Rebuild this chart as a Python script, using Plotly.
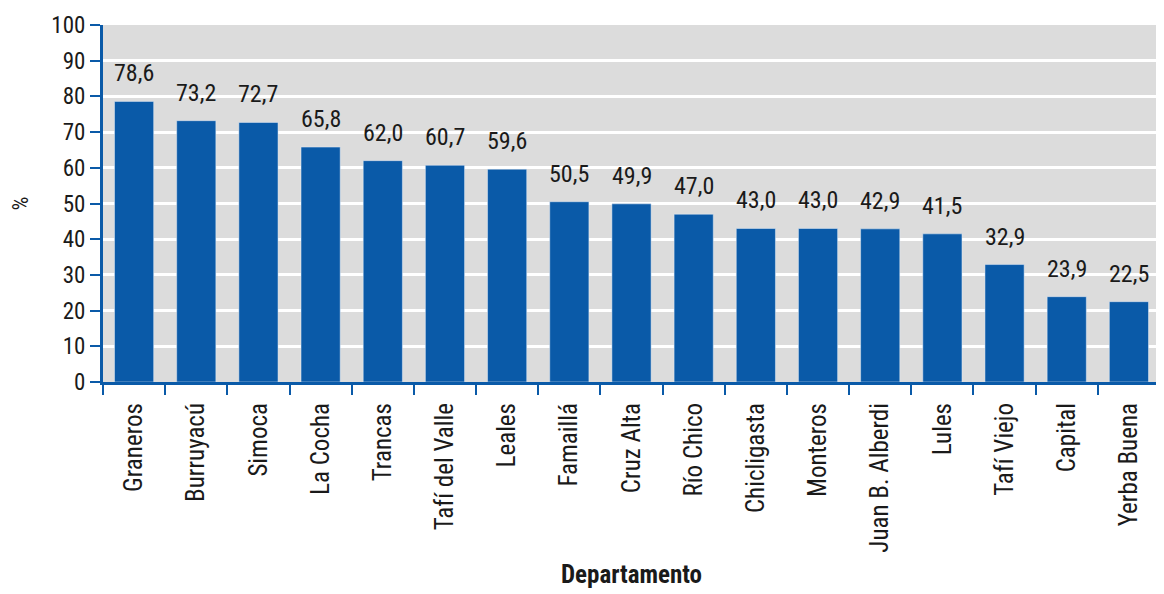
import plotly.graph_objects as go

departamentos = ["Graneros", "Burruyacú", "Simoca", "La Cocha", "Trancas", "Tafí del Valle",
                 "Leales", "Famaillá", "Cruz Alta", "Río Chico", "Chicligasta", "Monteros",
                 "Juan B. Alberdi", "Lules", "Tafí Viejo", "Capital", "Yerba Buena"]
porcentaje = [78.6, 73.2, 72.7, 65.8, 62.0, 60.7, 59.6, 50.5, 49.9, 47.0, 43.0, 43.0,
              42.9, 41.5, 32.9, 23.9, 22.5]

font_name = "Liberation Sans Narrow, Roboto Condensed, Arial Narrow, sans-serif"
blue = "#0a5aa8"

fig = go.Figure(go.Bar(
    x=departamentos,
    y=porcentaje,
    marker_color=blue,
    cliponaxis=False,
))

# value labels above the bars
for d, v in zip(departamentos, porcentaje):
    fig.add_annotation(
        x=d, y=v, text=f"{v:.1f}".replace(".", ","),
        showarrow=False, yanchor="bottom", yshift=12,
        font=dict(size=24, color="#1a1a1a", family=font_name),
    )

fig.update_layout(
    width=1156, height=586,
    margin=dict(l=95, r=4, t=13, b=212),
    plot_bgcolor="#dcdcdc",
    paper_bgcolor="white",
    bargap=0.37,
    showlegend=False,
    font=dict(family=font_name, color="#1a1a1a"),
)

fig.update_yaxes(
    range=[0, 100], dtick=10,
    showgrid=True, gridcolor="white", gridwidth=3,
    showline=True, linecolor=blue, linewidth=3,
    ticks="outside", ticklen=10, tickwidth=2, tickcolor=blue,
    tickfont=dict(size=23),
    title=dict(text="%", font=dict(size=22), standoff=24),
    zeroline=False,
)

fig.update_xaxes(
    tickangle=-90,
    tickson="boundaries",
    showline=True, linecolor=blue, linewidth=3,
    ticks="outside", ticklen=10, tickwidth=2, tickcolor=blue,
    ticklabelstandoff=8,
    tickfont=dict(size=25),
    title=dict(text="<b>Departamento</b>", font=dict(size=25), standoff=14),
)

fig.write_html("out.html")
